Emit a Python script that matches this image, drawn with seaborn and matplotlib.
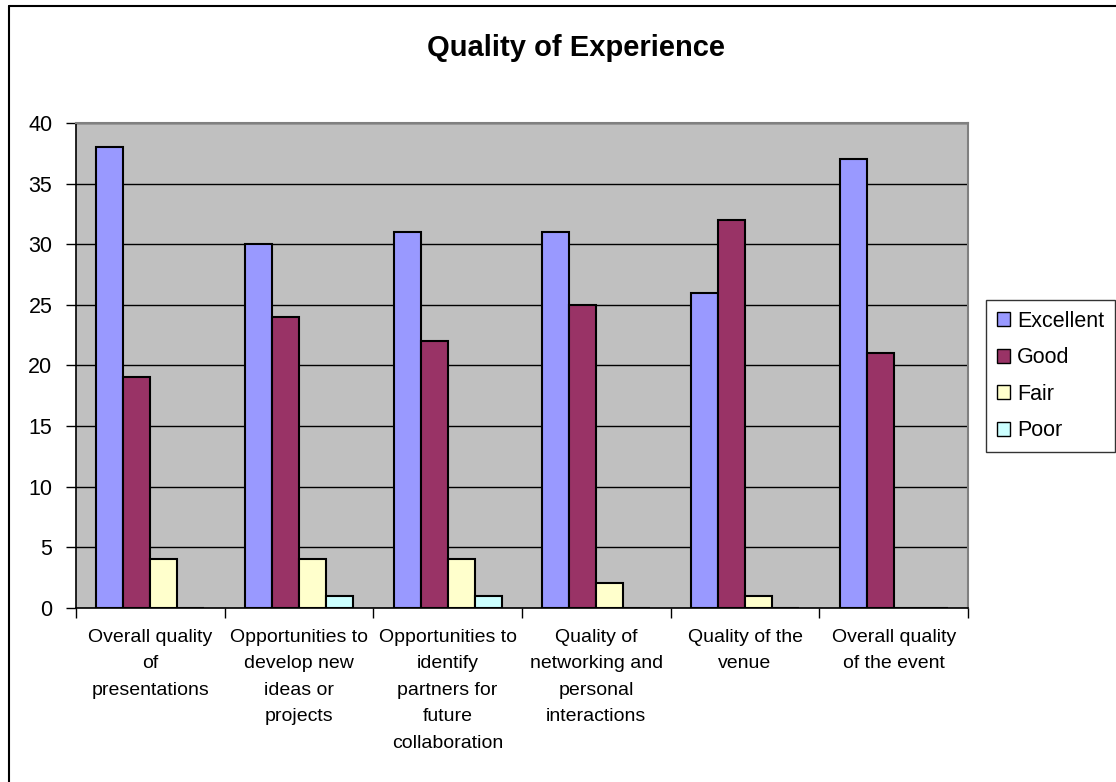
import matplotlib
matplotlib.use("Agg")
import matplotlib.pyplot as plt
from matplotlib.lines import Line2D
import seaborn as sns
import pandas as pd

categories = [
    "Overall quality\nof\npresentations",
    "Opportunities to\ndevelop new\nideas or\nprojects",
    "Opportunities to\nidentify\npartners for\nfuture\ncollaboration",
    "Quality of\nnetworking and\npersonal\ninteractions",
    "Quality of the\nvenue",
    "Overall quality\nof the event",
]
ratings = ["Excellent", "Good", "Fair", "Poor"]
excellent = [38, 30, 31, 31, 26, 37]
good = [19, 24, 22, 25, 32, 21]
fair = [4, 4, 4, 2, 1, 0]
poor = [0, 1, 1, 0, 0, 0]
colors = ["#9999FF", "#993366", "#FFFFCC", "#CCFFFF"]
y_ticks = [0, 5, 10, 15, 20, 25, 30, 35, 40]
title = "Quality of Experience"

series = [excellent, good, fair, poor]
rows = []
for rating, vals in zip(ratings, series):
    for cat, v in zip(categories, vals):
        rows.append({"Category": cat, "Rating": rating, "Count": v})
df = pd.DataFrame(rows)

sns.set_style("white")
plt.rcParams["font.family"] = ["Liberation Sans", "DejaVu Sans"]
for key in ["text.color", "axes.labelcolor", "xtick.color", "ytick.color"]:
    plt.rcParams[key] = "black"

W, H = 1116, 782
fig = plt.figure(figsize=(W / 100, H / 100), dpi=100)
fig.patch.set_facecolor("white")
ax = fig.add_axes([76 / W, 1 - 607.7 / H, (968 - 76) / W, (607.7 - 123) / H])

sns.barplot(data=df, x="Category", y="Count", hue="Rating", hue_order=ratings,
            order=categories, palette=colors, saturation=1, width=4 / 5.5,
            gap=0, edgecolor="black", linewidth=1.5, ax=ax, legend=True,
            errorbar=None)

ax.set_facecolor("#C0C0C0")
ax.set_ylim(0, 40)
ax.set_xlim(-0.5, len(categories) - 0.5)
ax.set_yticks(y_ticks)
ax.set_yticklabels([str(t) for t in y_ticks], fontsize=15.5, color="black")
ax.yaxis.grid(True, color="black", linewidth=1.0)
ax.set_axisbelow(True)
ax.set_xlabel("")
ax.set_ylabel("")

ax.tick_params(axis="y", direction="out", length=7, width=1, color="black",
               left=True, pad=10)
ax.set_xticks(range(len(categories)))
ax.set_xticklabels(categories, fontsize=14, linespacing=1.74, color="black",
                   va="top")
ax.tick_params(axis="x", which="major", length=0, pad=15)
ax.set_xticks([i - 0.5 for i in range(len(categories) + 1)], minor=True)
ax.tick_params(axis="x", which="minor", direction="out", length=7, width=1,
               color="black", bottom=True)

for side in ["left", "bottom"]:
    ax.spines[side].set_color("black")
    ax.spines[side].set_linewidth(1.2)
for side in ["top", "right"]:
    ax.spines[side].set_visible(True)
    ax.spines[side].set_color("#808080")
    ax.spines[side].set_linewidth(1.5)

leg = ax.legend(loc="upper left", bbox_to_anchor=(986 / W, 1 - 300 / H),
                bbox_transform=fig.transFigure, frameon=True, fancybox=False,
                fontsize=15.5, handlelength=0.6, handleheight=0.6,
                handletextpad=0.35, labelspacing=0.72, borderpad=0.5,
                borderaxespad=0)
leg.get_frame().set_edgecolor("black")
leg.get_frame().set_linewidth(1.0)
for h in leg.legend_handles:
    h.set_edgecolor("black")
    h.set_linewidth(1.0)
for t in leg.get_texts():
    t.set_color("black")

fig.text(576 / W, 1 - 48 / H, title, ha="center", va="center",
         fontsize=21, fontweight="bold", color="black")

fig.add_artist(Line2D([8.5 / W, 8.5 / W], [0, 1 - 5.5 / H], color="black",
                      linewidth=1.5, transform=fig.transFigure))
fig.add_artist(Line2D([8.5 / W, 1], [1 - 5.5 / H, 1 - 5.5 / H], color="black",
                      linewidth=1.5, transform=fig.transFigure))

fig.savefig("out.png", dpi=100)
